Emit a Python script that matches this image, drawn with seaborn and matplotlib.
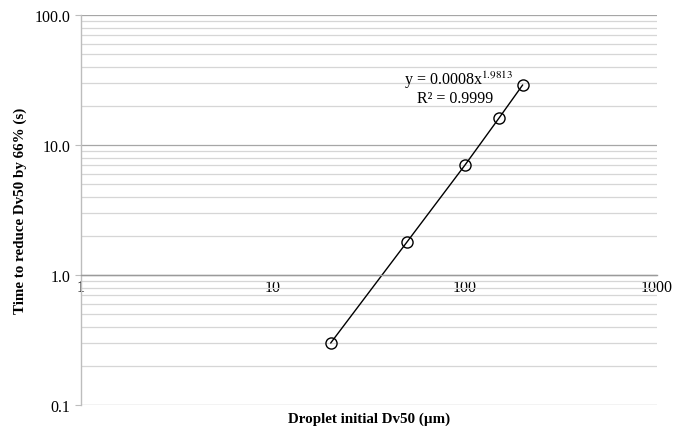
import pandas as pd
import seaborn as sns
import matplotlib.pyplot as plt
from matplotlib.ticker import LogLocator, FixedLocator, FixedFormatter, NullFormatter

# Data
dv50 = [20, 50, 100, 150, 200]
time_s = [0.3, 1.8, 7.0, 16.0, 29.0]
y_ticks = [0.1, 1, 10, 100]
y_tick_labels = ["0.1", "1.0", "10.0", "100.0"]
x_ticks = [1, 10, 100, 1000]
x_tick_labels = ["1", "10", "100", "1000"]

df = pd.DataFrame({"Dv50": dv50, "Time": time_s})

sns.set_style("white")
plt.rcParams['font.family'] = ['Liberation Serif', 'DejaVu Serif']
plt.rcParams['mathtext.fontset'] = 'stix'
plt.rcParams['text.color'] = 'black'
plt.rcParams['axes.labelcolor'] = 'black'
plt.rcParams['xtick.labelcolor'] = 'black'
plt.rcParams['ytick.labelcolor'] = 'black'

fig = plt.figure(figsize=(6.85, 4.27), dpi=100)
ax = fig.add_axes([0.118, 0.049, 0.841, 0.9135])

sns.lineplot(data=df, x="Dv50", y="Time", ax=ax, color="black", linewidth=1.0,
             marker="o", markersize=8, markerfacecolor="none",
             markeredgecolor="black", markeredgewidth=1.0)

ax.set_xscale("log")
ax.set_yscale("log")
ax.set_xlim(1, 1000)
ax.set_ylim(0.1, 100)

# gridlines (horizontal only)
ax.yaxis.set_major_locator(FixedLocator(y_ticks))
ax.yaxis.set_major_formatter(FixedFormatter(y_tick_labels))
ax.yaxis.set_minor_locator(LogLocator(base=10, subs=range(2, 10)))
ax.yaxis.set_minor_formatter(NullFormatter())
ax.grid(False)
ax.yaxis.grid(True, which="major", color="#a6a6a6", linewidth=0.9)
ax.yaxis.grid(True, which="minor", color="#d6d6d6", linewidth=0.9)
ax.set_axisbelow(True)

ax.xaxis.set_major_locator(FixedLocator(x_ticks))
ax.xaxis.set_major_formatter(FixedFormatter(x_tick_labels))
ax.xaxis.set_minor_locator(LogLocator(base=10, subs=range(2, 10)))
ax.xaxis.set_minor_formatter(NullFormatter())

# x axis crosses at y = 1
for s in ["top", "right"]:
    ax.spines[s].set_visible(False)
ax.spines["bottom"].set_position(("data", 1))
ax.spines["bottom"].set_color("#9a9a9a")
ax.spines["left"].set_color("#bdbdbd")
ax.spines["bottom"].set_linewidth(1.0)
ax.spines["left"].set_linewidth(1.0)

ax.tick_params(axis="x", which="major", direction="inout", length=6, color="#9a9a9a",
               labelsize=11.5, pad=0)
ax.tick_params(axis="x", which="minor", direction="in", length=3, color="#9a9a9a")
ax.tick_params(axis="y", which="major", direction="out", length=4, color="#bdbdbd",
               labelsize=11.5, left=True)
ax.tick_params(axis="y", which="minor", length=0)

ax.set_xlabel("Droplet initial Dv50 (µm)", fontsize=10.8, fontweight="bold", va="center")
ax.xaxis.set_label_coords(0.5, -0.033)
ax.set_ylabel("Time to reduce Dv50 by 66% (s)", fontsize=10.8, fontweight="bold", va="center")
ax.yaxis.set_label_coords(-0.105, 0.5)

ax.text(0.561, 0.835, "y = 0.0008x$^{\\mathrm{1.9813}}$", transform=ax.transAxes,
        ha="left", va="center", fontsize=11.5)
ax.text(0.649, 0.788, "R² = 0.9999", transform=ax.transAxes,
        ha="center", va="center", fontsize=11.5)

plt.savefig("out.png", dpi=100)
